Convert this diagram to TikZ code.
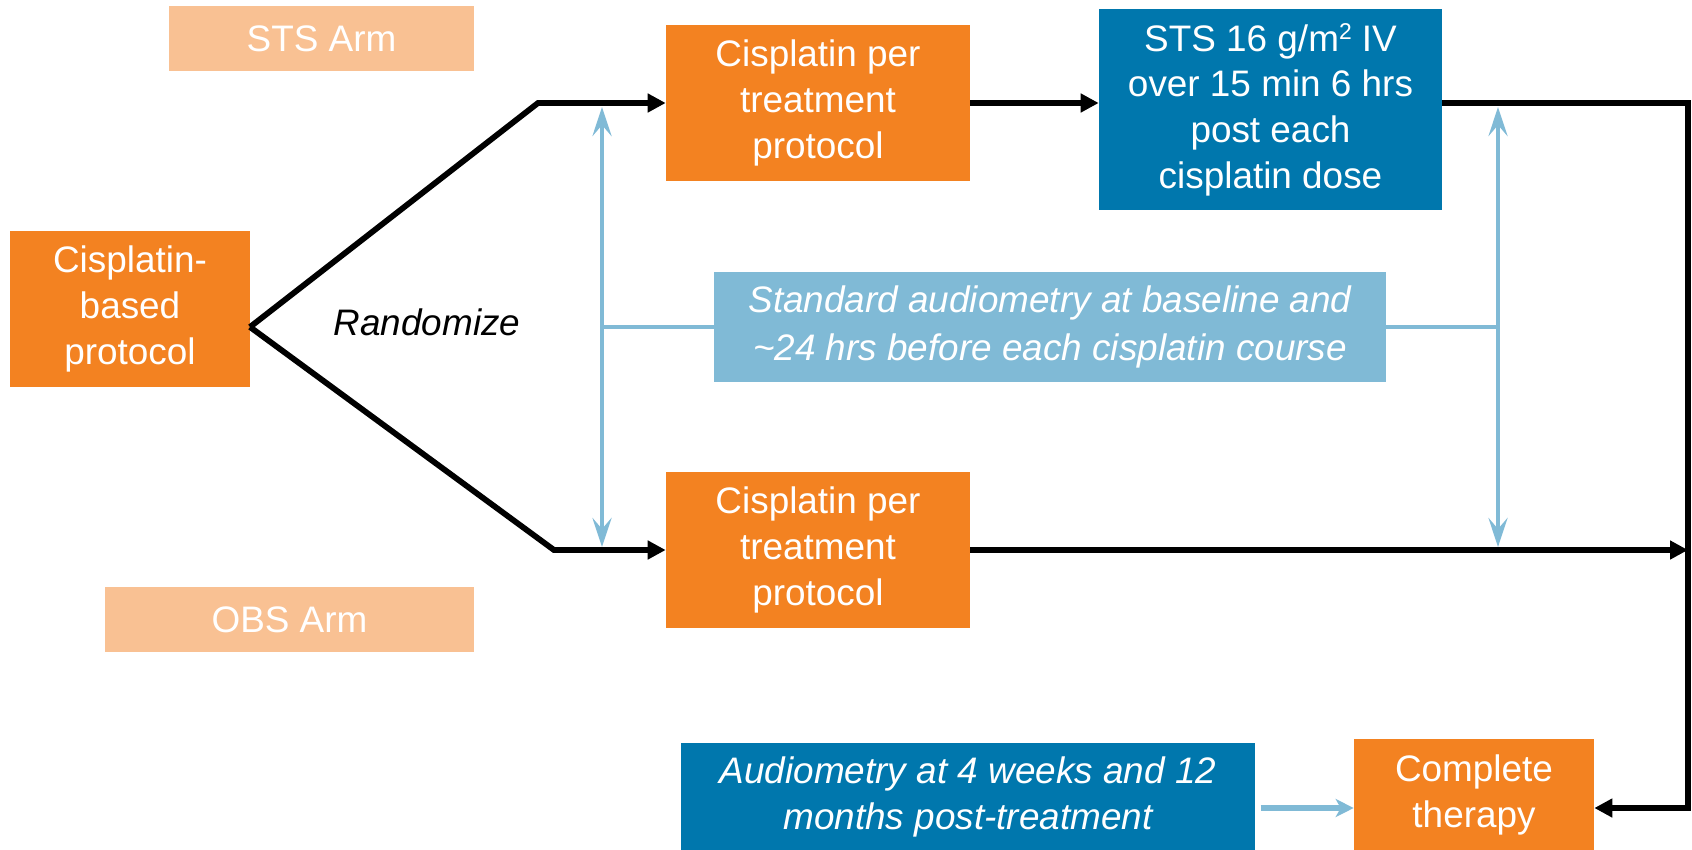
\documentclass[tikz,border=0pt]{standalone}
\usepackage{fontspec}
\setmainfont{Liberation Sans}
\usetikzlibrary{arrows.meta}
\definecolor{orng}{HTML}{F38221}
\definecolor{palorng}{HTML}{F9C193}
\definecolor{dkblue}{HTML}{0077AD}
\definecolor{ltblue}{HTML}{80BAD6}
\tikzset{
  box/.style={fill=#1, text=white, align=center, inner sep=0pt,
    font=\fontsize{21}{26}\selectfont},
  blk/.style={line width=3.3pt, -{Triangle[length=0.36cm,width=0.36cm]}},
  ltarr/.style={ltblue, line width=2.6pt,
    {Stealth[length=0.58cm,width=0.38cm,inset=0.22cm]}-{Stealth[length=0.58cm,width=0.38cm,inset=0.22cm]}},
  ltln/.style={ltblue, line width=2.6pt},
  ltfat/.style={ltblue, line width=3.6pt, -{Stealth[length=0.36cm,width=0.36cm,inset=0.1cm]}}
}
\begin{document}
\begin{tikzpicture}[x=0.02cm,y=-0.02cm]
  \useasboundingbox (0,0) rectangle (1692,849);
  \node[box=palorng, minimum width=6.1cm, minimum height=1.3cm] (stsarm) at (321.5,38.5) {STS Arm};
  \node[box=palorng, minimum width=7.38cm, minimum height=1.3cm] (obsarm) at (289.5,619.5) {OBS Arm};
  \node[box=orng, minimum width=4.8cm, minimum height=3.12cm] (base) at (130,309) {Cisplatin-\\based\\protocol};
  \node[box=orng, minimum width=6.08cm, minimum height=3.12cm] (cistop) at (818,103) {Cisplatin per\\treatment\\protocol};
  \node[box=orng, minimum width=6.08cm, minimum height=3.12cm] (cisbot) at (818,550) {Cisplatin per\\treatment\\protocol};
  \node[box=dkblue, minimum width=6.86cm, minimum height=4.02cm] (sts) at (1270.5,109.5) {STS 16 g/m\raisebox{0.33em}{\fontsize{13}{13}\selectfont 2} IV\\over 15 min 6 hrs\\post each\\cisplatin dose};
  \node[box=ltblue, minimum width=13.44cm, minimum height=2.2cm, font=\fontsize{21}{27}\selectfont\itshape] (audio) at (1050,327) {Standard audiometry at baseline and\\\textasciitilde24 hrs before each cisplatin course};
  \node[box=dkblue, minimum width=11.48cm, minimum height=2.16cm, font=\fontsize{21}{26}\selectfont\itshape] (post) at (968,797) {Audiometry at 4 weeks and 12\\months post-treatment};
  \node[box=orng, minimum width=4.8cm, minimum height=2.24cm] (done) at (1474,795) {Complete\\therapy};
  \node[font=\fontsize{21}{26}\selectfont\itshape] (rand) at (427,322) {Randomize};
  \coordinate (apex) at (250,327);
  \coordinate (upper) at (538,103);
  \coordinate (lower) at (554,550);
  \coordinate (rtop) at (1688,103);
  \coordinate (rbot) at (1688,808);
  \coordinate (ltop) at (602,107);
  \coordinate (lbot) at (602,547);
  \coordinate (rgtop) at (1498,107);
  \coordinate (rgbot) at (1498,547);
  \draw[blk] (apex) -- (upper) -- (cistop.west);
  \draw[blk] (apex) -- (lower) -- (cisbot.west);
  \draw[blk] (cistop.east) -- (cistop.east -| sts.west);
  \draw[blk] (sts.east |- rtop) -- (rtop) -- (rbot) -- (rbot -| done.east);
  \draw[blk] (cisbot.east) -- (cisbot.east -| rtop);
  \draw[ltarr] (ltop) -- (lbot);
  \draw[ltarr] (rgtop) -- (rgbot);
  \draw[ltln] (audio.west) -- (audio.west -| ltop);
  \draw[ltln] (audio.east) -- (audio.east -| rgtop);
  \draw[ltfat, shorten <=3pt] (post.east |- rbot) -- (rbot -| done.west);
\end{tikzpicture}
\end{document}
